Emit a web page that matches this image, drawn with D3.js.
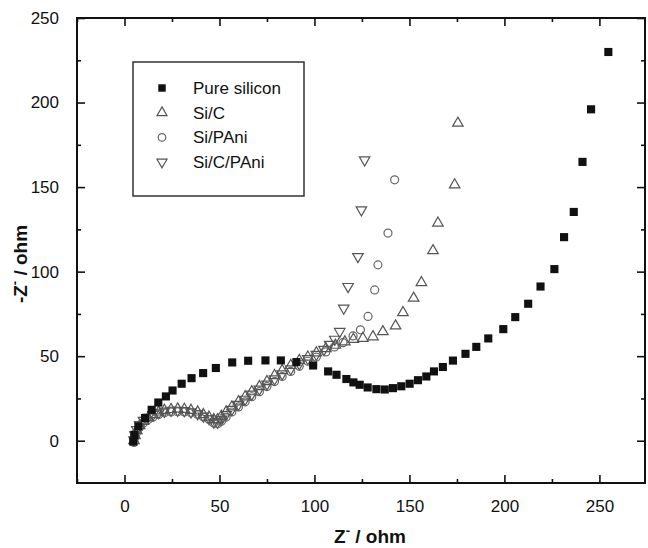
<!DOCTYPE html>
<html lang="en">
<head>
<meta charset="utf-8">
<title>Nyquist plot</title>
<script src="https://cdn.jsdelivr.net/npm/d3@7"></script>
<style>
  body { margin: 0; background: #fff; }
  text { font-family: "Liberation Sans", Arial, sans-serif; }
  .tick text { font-size: 17px; fill: #111; }
  .domain { display: none; }
  .tick line { stroke: #111; stroke-width: 1.6; }
</style>
</head>
<body>
<script>

// Values: [Z', -Z''] in ohm
var pureSilicon = [[4.6,-0.5],[5.2,3.5],[7.3,8.5],[10.8,13.4],[14.3,18.3],[17.8,22.6],[21.8,26.2],[25.3,29.7],[30.1,33.7],[35.3,37],[41.4,40],[48.1,43],[56.7,46.3],[65.1,47.3],[74.2,47.5],[82.3,47.5],[90.5,46.5],[99.3,44.5],[107.2,41],[111.6,39],[116.8,36.5],[120.5,34.5],[123.8,33.1],[128,31.5],[132.6,30.5],[137,30.3],[141.3,31.1],[145.7,32.2],[150.1,33.7],[154.5,35.8],[158.9,38],[162.9,41],[167.6,43.6],[172.9,47.4],[179.5,51.4],[185.2,55.5],[191.5,60.5],[199.4,66],[205.7,73.1],[212.5,81],[219,91.2],[226.3,101.5],[231.4,120.4],[236.5,135.3],[241.1,164.9],[245.6,196],[254.7,229.9]];

var siC = [[5,0],[5.5,3],[6.5,6],[8,9],[10,11.5],[12.5,13.5],[15,15.5],[18,17],[21,18],[24.5,18.5],[28,18.8],[31.5,18.6],[35,18],[38.5,17],[41.5,15.5],[44.5,14],[47,12.5],[49,12.5],[51,14.5],[53.5,17],[56.5,20],[60,23],[63.5,26],[67,29],[71,32],[75,35],[79,38.5],[83,41.5],[87.5,44.5],[92,47.5],[96.5,49.5],[101,52],[106,54.5],[111,56.5],[116,58.5],[120.5,60],[125.5,60.6],[130.8,61.5],[136,64.5],[142.7,67.9],[146.6,75.8],[152.2,84.3],[156.3,93.5],[162.4,112.4],[165,128.7],[173.8,151.3],[175.5,187.8]];

var siPAni = [[5,-1],[5.5,2],[6.5,5],[8,8],[10,10.5],[12.5,12.5],[15,14],[18,15.5],[21,16.5],[24.5,17],[28,17.2],[31.5,17],[35,16.5],[38.5,15.5],[41.5,14],[44.5,12.5],[47,10.5],[49,10],[51,11.5],[53.5,14],[56.5,17],[60,20],[63.5,23],[67,26],[71,29],[75,32],[79,35],[83,38],[87.5,41],[92,44],[96.5,47],[101,49.5],[106,52.5],[110.5,55.5],[115,58],[120.3,62],[124.2,65.6],[128.2,73.5],[131.7,89.2],[133.4,104],[138.7,122.8],[142.2,154.3]];

var siCPAni = [[5,0.5],[5.5,3.5],[6.5,6.5],[8,9.5],[10,12],[12.5,14],[15,15.5],[18,16.5],[21,17.5],[24.5,18],[28,18],[31.5,17.8],[35,17],[38.5,16],[41.5,14.5],[44.5,13],[47,11],[49,11],[51,12.5],[53.5,15.5],[56.5,18.5],[60,21.5],[63.5,24.5],[67,27.5],[71,30.5],[75,33.5],[79,36.5],[83,39.5],[87.5,42.5],[92,45.5],[96.5,48.5],[101,51],[105,54],[108,57],[110.7,60],[113.3,64.6],[115.4,78.4],[117.7,91.2],[122.9,108.9],[124.7,136.5],[126.4,166.1]];

var seriesNames = ["Pure silicon", "Si/C", "Si/PAni", "Si/C/PAni"];
var xTicks = [0, 50, 100, 150, 200, 250];
var yTicks = [0, 50, 100, 150, 200, 250];
var xMinor = [-25, 25, 75, 125, 175, 225];
var yMinor = [25, 75, 125, 175, 225];

var w = 648, h = 548;
var padL = 77, padR = 645, padT = 18, padB = 483;

var x = d3.scaleLinear().domain([-25, 274]).range([padL, padR]);
var y = d3.scaleLinear().domain([-25, 250]).range([padB, padT]);

var svg = d3.select("body").append("svg")
  .attr("width", w)
  .attr("height", h);

// axes, ticks pointing inward
svg.append("g").attr("transform", "translate(0," + padB + ")")
  .call(d3.axisBottom(x).tickValues(xTicks).tickSize(-8).tickPadding(17).tickFormat(d3.format("d")));
svg.append("g").attr("transform", "translate(0," + padB + ")")
  .call(d3.axisBottom(x).tickValues(xMinor).tickSize(-4).tickFormat(""));
svg.append("g").attr("transform", "translate(0," + padT + ")")
  .call(d3.axisTop(x).tickValues(xTicks).tickSize(-8).tickFormat(""));
svg.append("g").attr("transform", "translate(0," + padT + ")")
  .call(d3.axisTop(x).tickValues(xMinor).tickSize(-4).tickFormat(""));

svg.append("g").attr("transform", "translate(" + padL + ",0)")
  .call(d3.axisLeft(y).tickValues(yTicks).tickSize(-8).tickPadding(18).tickFormat(d3.format("d")));
svg.append("g").attr("transform", "translate(" + padL + ",0)")
  .call(d3.axisLeft(y).tickValues(yMinor).tickSize(-4).tickFormat(""));
svg.append("g").attr("transform", "translate(" + padR + ",0)")
  .call(d3.axisRight(y).tickValues(yTicks).tickSize(-8).tickFormat(""));
svg.append("g").attr("transform", "translate(" + padR + ",0)")
  .call(d3.axisRight(y).tickValues(yMinor).tickSize(-4).tickFormat(""));

svg.append("rect")
  .attr("x", padL).attr("y", padT)
  .attr("width", padR - padL).attr("height", padB - padT)
  .attr("fill", "none")
  .attr("stroke", "#111")
  .attr("stroke-width", 2);

// axis titles
var xt = svg.append("text")
  .attr("x", 370).attr("y", 543)
  .attr("text-anchor", "middle")
  .attr("font-size", "19px").attr("font-weight", "bold")
  .attr("fill", "#111");
xt.append("tspan").text("Z");
xt.append("tspan").attr("dy", -8).attr("font-size", "13px").text("-");
xt.append("tspan").attr("dy", 8).text(" / ohm");

var yt = svg.append("text")
  .attr("transform", "translate(27,264) rotate(-90)")
  .attr("text-anchor", "middle")
  .attr("font-size", "19px").attr("font-weight", "bold")
  .attr("fill", "#111");
yt.append("tspan").text("-Z");
yt.append("tspan").attr("dy", -8).attr("font-size", "13px").text("-");
yt.append("tspan").attr("dy", 8).text(" / ohm");

// markers
var shapes = [
  { data: pureSilicon, sym: d3.symbol(d3.symbolSquare, 66), rot: 0, fill: "#111", stroke: "none" },
  { data: siC, sym: d3.symbol(d3.symbolTriangle, 48), rot: 0, fill: "none", stroke: "#555" },
  { data: siPAni, sym: d3.symbol(d3.symbolCircle, 50), rot: 0, fill: "none", stroke: "#666" },
  { data: siCPAni, sym: d3.symbol(d3.symbolTriangle, 48), rot: 180, fill: "none", stroke: "#555" }
];

var plot = svg.append("g");
shapes.slice().reverse().forEach(function(s) {
  plot.selectAll(null)
    .data(s.data)
    .enter()
    .append("path")
    .attr("d", s.sym)
    .attr("transform", function(d) {
      return "translate(" + x(d[0]) + "," + y(d[1]) + ") rotate(" + s.rot + ")";
    })
    .attr("fill", s.fill)
    .attr("stroke", s.stroke)
    .attr("stroke-width", 1.2);
});

// legend
var lg = svg.append("g");
lg.append("rect")
  .attr("x", 133).attr("y", 62)
  .attr("width", 171).attr("height", 134)
  .attr("fill", "#fff")
  .attr("stroke", "#333")
  .attr("stroke-width", 1.5);

var legendSyms = [
  d3.symbol(d3.symbolSquare, 56),
  d3.symbol(d3.symbolTriangle, 44),
  d3.symbol(d3.symbolCircle, 44),
  d3.symbol(d3.symbolTriangle, 44)
];
seriesNames.forEach(function(name, i) {
  var ly = 88 + i * 24.7;
  lg.append("path")
    .attr("d", legendSyms[i])
    .attr("transform", "translate(162," + ly + ") rotate(" + shapes[i].rot + ")")
    .attr("fill", shapes[i].fill)
    .attr("stroke", shapes[i].stroke)
    .attr("stroke-width", 1.2);
  lg.append("text")
    .attr("x", 193).attr("y", ly + 6)
    .attr("font-size", "17px")
    .attr("fill", "#111")
    .text(name);
});

</script>
</body>
</html>
